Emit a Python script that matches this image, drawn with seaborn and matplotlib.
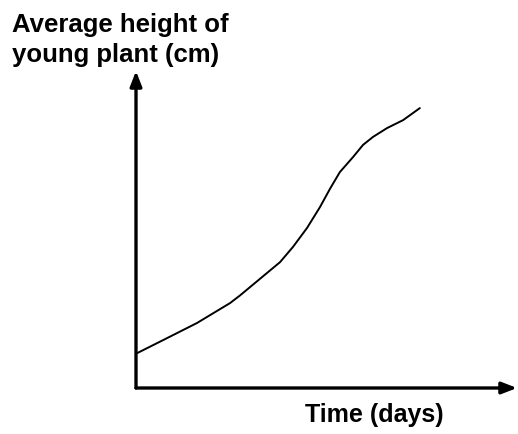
import numpy as np
import pandas as pd
import matplotlib
matplotlib.use("Agg")
import matplotlib.pyplot as plt
import seaborn as sns

# data (arbitrary units, 0-10 on both axes)
time_days = [0.03, 0.71, 1.60, 2.47, 2.73, 3.31, 3.78, 4.12, 4.49, 4.83, 5.09, 5.35,
             5.70, 5.96, 6.22, 6.59, 7.01, 7.45]
plant_height = [1.10, 1.51, 2.05, 2.68, 2.92, 3.50, 3.97, 4.45, 5.05, 5.71, 6.28, 6.81,
                7.29, 7.67, 7.92, 8.20, 8.45, 8.83]

y_label_lines = ["Average height of", "young plant (cm)"]
x_label = "Time (days)"

sns.set_style("white")
plt.rcParams['font.family'] = ['Liberation Sans', 'DejaVu Sans']

W, H = 518, 434
fig = plt.figure(figsize=(W / 100, H / 100), dpi=100)
ax = fig.add_axes([136 / W, (H - 388) / H, (517 - 136) / W, (388 - 71) / H])

df = pd.DataFrame({"time": time_days, "height": plant_height})
sns.lineplot(data=df, x="time", y="height", ax=ax, color="black", linewidth=1.4,
             sort=False, solid_joinstyle="round")

ax.set_xlim(0, 10)
ax.set_ylim(0, 10)
ax.set_axis_off()

# axes drawn as arrows
arrow = dict(arrowstyle="-|>,head_length=0.9,head_width=0.35", color="black", lw=2.4,
             shrinkA=0, shrinkB=0)
ax.annotate("", xy=(0, 10), xytext=(0, 0), arrowprops=arrow, annotation_clip=False)
ax.annotate("", xy=(10, 0), xytext=(0, 0), arrowprops=arrow, annotation_clip=False)

fig.text(12 / W, (H - 32) / H, y_label_lines[0], fontsize=18.5, fontweight="bold",
         color="black", va="baseline", ha="left")
fig.text(12 / W, (H - 62) / H, y_label_lines[1], fontsize=18.5, fontweight="bold",
         color="black", va="baseline", ha="left")
fig.text(305 / W, (H - 422) / H, x_label, fontsize=18, fontweight="bold",
         color="black", va="baseline", ha="left")

fig.savefig("out.png", dpi=100, facecolor="white")
